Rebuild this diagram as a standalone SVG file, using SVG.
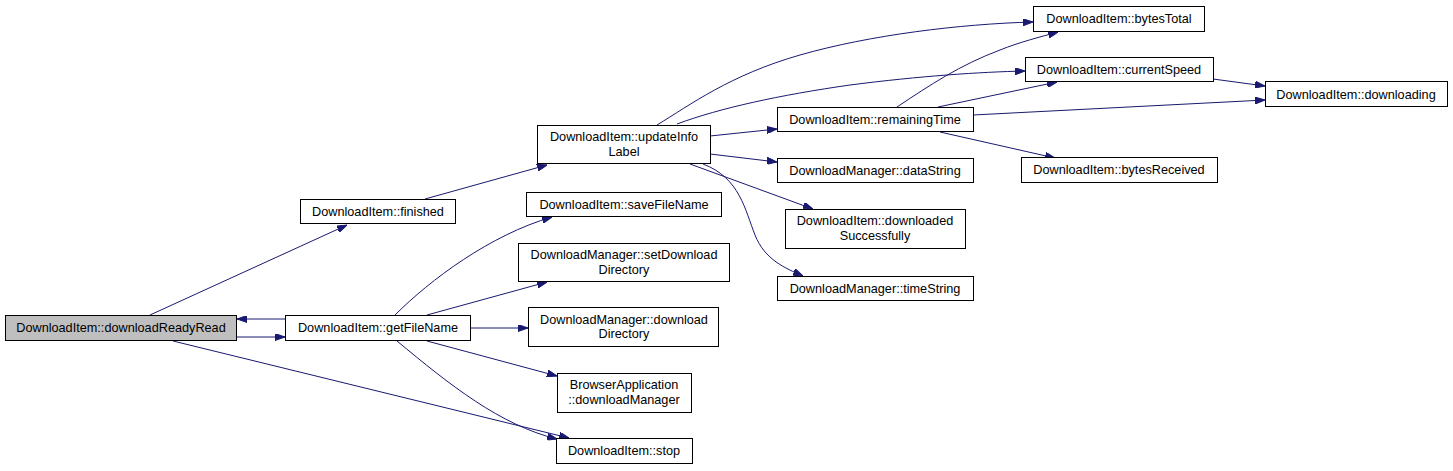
<svg xmlns="http://www.w3.org/2000/svg" width="1453" height="471" viewBox="0 0 1453 471">
<style>
.node rect{fill:#ffffff;stroke:#000000;stroke-width:1}
.node.hl rect{fill:#bfbfbf}
.node text{font-family:"Liberation Sans",Arial,sans-serif;font-size:12.7px;fill:#000000;text-anchor:middle}
.edges path{fill:none;stroke:#191970;stroke-width:1;marker-end:url(#arr)}
</style>
<defs>
<marker id="arr" viewBox="0 0 10 7" refX="10" refY="3.5" markerWidth="10" markerHeight="7" markerUnits="userSpaceOnUse" orient="auto">
<path d="M0,0 L10,3.5 L0,7 z" fill="#191970" stroke="#191970" stroke-width="1"/>
</marker>
</defs>
<rect width="1453" height="471" fill="#ffffff"/>
<g class="edges">
<path d="M150,315 L347,225"/>
<path d="M237,337 L285,337"/>
<path d="M285,319 L237,319"/>
<path d="M173,341 L569,438"/>
<path d="M425,199 L547,165"/>
<path d="M395,315 C430,280 490,235 552,217"/>
<path d="M427,315 L547,282"/>
<path d="M470,328 L528,328"/>
<path d="M427,341 L557,376"/>
<path d="M397,341 C450,385 500,425 557,439"/>
<path d="M710,136 L777,129"/>
<path d="M710,154 L777,162"/>
<path d="M690,164 L813,209"/>
<path d="M703,164 C740,178 745,210 755,235 C765,260 785,268 803,276"/>
<path d="M657,125 C690,105 730,75 800,55 C870,35 960,24 1033,22"/>
<path d="M677,124 C720,108 780,95 850,85 C920,76 980,72 1025,71"/>
<path d="M897,107 C930,85 960,65 1000,50 C1020,42 1040,37 1058,32"/>
<path d="M938,107 L1057,82"/>
<path d="M973,115 L1265,100"/>
<path d="M940,132 L1055,158"/>
<path d="M1213,79 L1265,86"/>
</g>
<g id="node1" class="node hl"><rect x="5.5" y="315.5" width="231" height="25"/><text x="121" y="332">DownloadItem::downloadReadyRead</text></g>
<g id="node2" class="node"><rect x="300.5" y="199.5" width="155" height="24"/><text x="378" y="216">DownloadItem::finished</text></g>
<g id="node3" class="node"><rect x="285.5" y="315.5" width="185" height="25"/><text x="378" y="332">DownloadItem::getFileName</text></g>
<g id="node4" class="node"><rect x="537.5" y="125.5" width="173" height="38"/><text x="624" y="141">DownloadItem::updateInfo</text><text x="624" y="156">Label</text></g>
<g id="node5" class="node"><rect x="526.5" y="192.5" width="195" height="24"/><text x="624" y="209">DownloadItem::saveFileName</text></g>
<g id="node6" class="node"><rect x="518.5" y="243.5" width="211" height="38"/><text x="624" y="259">DownloadManager::setDownload</text><text x="624" y="274">Directory</text></g>
<g id="node7" class="node"><rect x="528.5" y="307.5" width="190" height="39"/><text x="624" y="323.5">DownloadManager::download</text><text x="624" y="338">Directory</text></g>
<g id="node8" class="node"><rect x="557.5" y="373.5" width="134" height="39"/><text x="624" y="389">BrowserApplication</text><text x="624" y="404">::downloadManager</text></g>
<g id="node9" class="node"><rect x="556.5" y="438.5" width="136" height="25"/><text x="624" y="455">DownloadItem::stop</text></g>
<g id="node10" class="node"><rect x="777.5" y="107.5" width="196" height="24"/><text x="875" y="124">DownloadItem::remainingTime</text></g>
<g id="node11" class="node"><rect x="777.5" y="158.5" width="196" height="24"/><text x="875" y="175">DownloadManager::dataString</text></g>
<g id="node12" class="node"><rect x="785.5" y="209.5" width="180" height="39"/><text x="875" y="225">DownloadItem::downloaded</text><text x="875" y="240">Successfully</text></g>
<g id="node13" class="node"><rect x="777.5" y="276.5" width="196" height="24"/><text x="875" y="293">DownloadManager::timeString</text></g>
<g id="node14" class="node"><rect x="1033.5" y="6.5" width="171" height="25"/><text x="1119" y="23">DownloadItem::bytesTotal</text></g>
<g id="node15" class="node"><rect x="1025.5" y="57.5" width="188" height="24"/><text x="1119" y="73.5">DownloadItem::currentSpeed</text></g>
<g id="node16" class="node"><rect x="1265.5" y="81.5" width="182" height="25"/><text x="1356" y="98.5">DownloadItem::downloading</text></g>
<g id="node17" class="node"><rect x="1021.5" y="157.5" width="196" height="25"/><text x="1119" y="174">DownloadItem::bytesReceived</text></g>
</svg>
